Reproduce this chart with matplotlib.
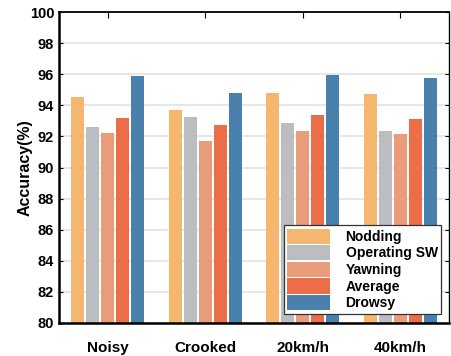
import numpy as np
import matplotlib.pyplot as plt

# accuracy per driving condition and behaviour
conditions = ["Noisy", "Crooked", "20km/h", "40km/h"]
behaviours = ["Nodding", "Operating SW", "Yawning", "Average", "Drowsy"]
nodding = [94.55, 93.70, 94.80, 94.73]
operating_sw = [92.60, 93.25, 92.86, 92.37]
yawning = [92.24, 91.70, 92.37, 92.13]
average = [93.16, 92.73, 93.38, 93.10]
drowsy = [95.86, 94.77, 95.95, 95.77]
colors = ["#F5B76F", "#BCBDC1", "#E99C7A", "#EB6E48", "#4A80AC"]

series = [nodding, operating_sw, yawning, average, drowsy]

plt.rcParams['font.family'] = ['Liberation Sans', 'DejaVu Sans']
plt.rcParams['font.weight'] = 'bold'

fig = plt.figure(figsize=(4.52, 3.56), dpi=100)
ax = fig.add_axes([59/452, 33/356, 390/452, 311/356])

x = np.arange(len(conditions))
step = 0.154
w = 0.134
for i, (vals, name) in enumerate(zip(series, behaviours)):
    ax.bar(x + (i - 2) * step, vals, width=w, color=colors[i], label=name,
           linewidth=0, zorder=3)

ax.set_ylim(80, 100)
ax.set_xlim(-0.5, 3.5)
ax.set_yticks(np.arange(80, 101, 2))
ax.set_xticks(x)
ax.set_xticklabels(conditions, fontsize=11, fontweight='bold')
ax.tick_params(axis='y', labelsize=10.5, direction='in', right=True, length=3)
ax.tick_params(axis='x', direction='in', top=True, length=4, pad=13)
for lab in ax.get_yticklabels():
    lab.set_fontweight('bold')
ax.grid(axis='y', color='#E3E3E3', linewidth=1.2, zorder=0)
ax.set_ylabel("Accuracy(%)", fontsize=11.5, fontweight='bold', labelpad=-2)

for s in ax.spines.values():
    s.set_linewidth(1.0)
    s.set_zorder(5)
ax.spines['bottom'].set_linewidth(1.8)
ax.spines['left'].set_linewidth(1.8)
ax.spines['top'].set_linewidth(1.3)

leg = ax.legend(loc='lower right', bbox_to_anchor=(0.98, 0.03),
                prop={'weight': 'bold', 'size': 10}, fancybox=False,
                edgecolor='#333333', framealpha=1, handlelength=3.1,
                handleheight=1.3, labelspacing=0.1, borderpad=0.25,
                handletextpad=1.1, borderaxespad=0.0)
leg.get_frame().set_linewidth(0.9)
leg.set_zorder(6)

fig.savefig("out.png", dpi=100)
